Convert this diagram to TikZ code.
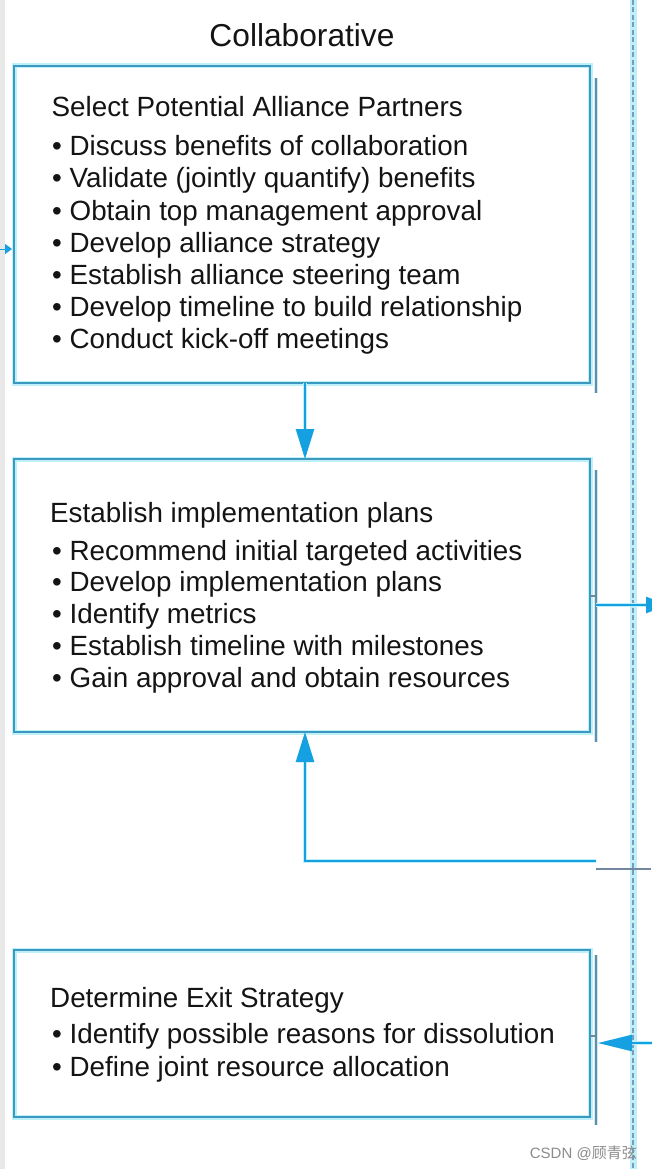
\documentclass[tikz,border=0pt]{standalone}
\usepackage{fontspec}
\setmainfont{Liberation Sans}
\newfontfamily\cjkfont{Noto Sans CJK SC}
\usetikzlibrary{arrows.meta}
\definecolor{boxc}{RGB}{60,152,190}
\definecolor{glowc}{RGB}{190,240,250}
\definecolor{arrc}{RGB}{20,160,225}
\definecolor{sidec}{RGB}{115,135,160}
\definecolor{dotc}{RGB}{120,155,190}
\definecolor{stripc}{RGB}{232,232,232}
\tikzset{
  box/.style={draw=boxc, line width=2pt, preaction={draw=glowc, line width=5pt},
    minimum width=576pt, inner sep=0pt, outer sep=0pt},
  sideline/.style={draw=sidec, line width=1.5pt, preaction={draw=glowc, line width=4pt}},
  flow/.style={draw=arrc, line width=2pt, preaction={draw=glowc, line width=4pt}},
  tipA/.style={-{Triangle[length=30pt,width=18pt]}},
  txt/.style={anchor=base west, inner sep=0pt, font=\fontsize{27.8}{32}\selectfont, text=black!92},
  dotline/.style={draw=dotc, line width=2.5pt, dash pattern=on 5pt off 2.5pt, preaction={draw=glowc, line width=7pt, solid}}
}
\begin{document}
\begin{tikzpicture}[x=1pt,y=-1pt]
\useasboundingbox[fill=white] (0,0) rectangle (651,1169);
\fill[stripc] (0,0) rectangle (4.5,1169);
% dotted swimlane line
\coordinate (dtop) at (633,0);
\coordinate (dbot) at (633,1169);
\draw[dotline] (dtop) -- (dbot);
% lane title
\node[anchor=base, inner sep=0pt, font=\fontsize{31.7}{36}\selectfont, text=black!92] (lane) at (302,47) {Collaborative};
% boxes
\node[box, minimum height=317pt] (b1) at (302,224.5) {};
\node[box, minimum height=273pt] (b2) at (302,595.5) {};
\node[box, minimum height=167pt] (b3) at (302,1033.5) {};
% side lines
\coordinate (s1a) at (596,78); \coordinate (s1b) at (596,393);
\coordinate (s2a) at (596,470); \coordinate (s2b) at (596,742);
\coordinate (s3a) at (596,955); \coordinate (s3b) at (596,1125);
\draw[sideline] (s1a) -- (s1b);
\draw[sideline] (s2a) -- (s2b);
\draw[sideline] (s3a) -- (s3b);
% ticks
\draw[draw=sidec, line width=1.5pt] (b2.east |- 0,596) -- (596,596);
\draw[draw=sidec, line width=1.5pt] (b3.east |- 0,1036) -- (596,1036);
% box1 texts
\node[txt] (t1) at (51.5,117) {Select Potential Alliance Partners};
\foreach \t [count=\i] in {Discuss benefits of collaboration, Validate (jointly quantify) benefits, Obtain top management approval, Develop alliance strategy, Establish alliance steering team, Develop timeline to build relationship, Conduct kick-off meetings}
  \node[txt] (t1b\i) at (52,{124+32*\i}) {• \t};
% box2 texts
\node[txt] (t2) at (50,522) {Establish implementation plans};
\foreach \t/\yy [count=\i] in {Recommend initial targeted activities/560, Develop implementation plans/591, Identify metrics/623, Establish timeline with milestones/655, Gain approval and obtain resources/687}
  \node[txt] (t2b\i) at (52,\yy) {• \t};
% box3 texts
\node[txt] (t3) at (50,1007) {Determine Exit Strategy};
\node[txt] (t3b1) at (52,1043) {• Identify possible reasons for dissolution};
\node[txt] (t3b2) at (52,1076) {• Define joint resource allocation};
% connectors
\draw[flow, tipA] ([xshift=3pt]b1.south) -- ([xshift=3pt]b2.north);
\coordinate (fb) at (596,861);
\draw[flow, tipA] (fb) -| ([xshift=3pt]b2.south);
\coordinate (fbr) at (651,869);
\draw[draw=sidec, line width=1.5pt] (fb |- fbr) -- (fbr);
\coordinate (o2a) at (596,605); \coordinate (o2b) at (668,605);
\draw[flow, -{Triangle[length=22pt,width=16pt]}] (o2a) -- (o2b);
\coordinate (in3) at (660,1043); \coordinate (in3t) at (598,1043);
\draw[flow, -{Triangle[length=34pt,width=16pt]}] (in3) -- (in3t);
\coordinate (inL) at (0,249); \coordinate (inLt) at (12,249);
\draw[draw=arrc, line width=1pt, -{Triangle[length=7pt,width=10pt]}] (inL) -- (inLt);
% watermark
\node[anchor=base east, inner sep=0pt, font=\fontsize{15}{18}\selectfont, text=black!45] (wm) at (637,1158) {CSDN @{\cjkfont 顾青弦}};
\end{tikzpicture}
\end{document}
